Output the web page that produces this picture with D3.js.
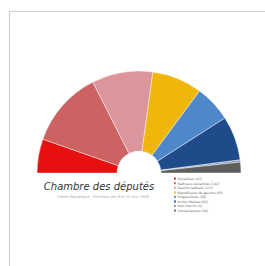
<!DOCTYPE html>
<html><head><meta charset="utf-8">
<script src="https://cdn.jsdelivr.net/npm/d3@7"></script>
<style>html,body{margin:0;padding:0;background:#fff;}svg{display:block;}</style>
</head><body>
<svg id="c" width="265" height="266"></svg>
<script>
const parties = ["Socialistes", "Radicaux-socialistes", "Gauche radicale", "Républicains de gauche", "Progressistes", "Action libérale", "Non-inscrits", "Conservateurs"];
const seats = [63, 142, 113, 93, 68, 82, 4, 20];
const colors = ["#e8100f", "#cc6262", "#dc959a", "#efb60c", "#4f87cb", "#1f4b8b", "#8a9ab0", "#5e5e5e"];
const title = "Chambre des députés";
const subtitle = "IIIème République · Élections des 6 et 20 mai 1906";

const svg = d3.select("#c");
// frame
svg.append("path").attr("d","M265,11.5 H9.5 V266").attr("fill","none").attr("stroke","#cfcfcf").attr("stroke-width",1.2);

const cx = 139, cy = 173, R = 102, r = 22;
const data = parties.map((p,i)=>({name:p, value:seats[i], color:colors[i]}));
const pie = d3.pie().value(d=>d.value).sort(null).startAngle(-Math.PI/2).endAngle(Math.PI/2);
const arc = d3.arc().innerRadius(r).outerRadius(R);
const g = svg.append("g").attr("transform",`translate(${cx},${cy})`);
g.selectAll("path").data(pie(data)).join("path")
  .attr("d",arc).attr("fill",d=>d.data.color)
  .attr("stroke","#ffffff").attr("stroke-opacity",0.55).attr("stroke-width",0.8);

svg.append("text").attr("x",99).attr("y",189.5).attr("text-anchor","middle")
  .attr("font-family","'Comic Sans MS','DejaVu Sans',sans-serif").attr("font-style","italic")
  .attr("font-size",10).attr("fill","#333").text(title);
svg.append("text").attr("x",103).attr("y",197.5).attr("text-anchor","middle")
  .attr("font-family","'DejaVu Sans',sans-serif").attr("font-size",3.6).attr("fill","#aaa").text(subtitle);

const lg = svg.append("g");
const ly = d3.scalePoint().domain(parties).range([179, 211]);
const item = lg.selectAll("g").data(data).join("g").attr("transform",d=>`translate(174,${ly(d.name)})`);
item.append("rect").attr("x",0).attr("y",-1.4).attr("width",1.8).attr("height",2).attr("fill",d=>d.color);
item.append("text").attr("x",3.5).attr("y",1).attr("font-family","'DejaVu Sans',sans-serif")
  .attr("font-size",3.2).attr("fill","#666").text(d=>`${d.name} (${d.value})`);
</script>
</body></html>
